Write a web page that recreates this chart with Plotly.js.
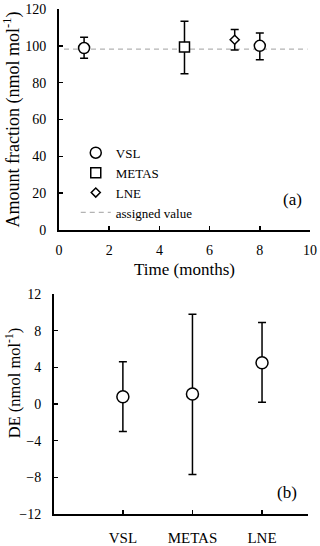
<!DOCTYPE html>
<html>
<head>
<meta charset="utf-8">
<script src="https://cdn.plot.ly/plotly-3.0.1.min.js"></script>
<style>
  html, body { margin: 0; padding: 0; background: #fff; }
  #chart { width: 320px; height: 546px; }
  #chart text { font-family: 'Liberation Serif', 'Times New Roman', serif !important; }
</style>
</head>
<body>
<div id="chart"></div>
<script>
// Panel (a): amount fraction vs time
const vslMonths = [1, 8];
const vslValues = [98.8, 100];
const vslErrPlus = [5.9, 7.0];
const vslErrMinus = [5.5, 7.6];

const metasMonths = [5];
const metasValues = [99.3];
const metasErrPlus = [14.1];
const metasErrMinus = [14.5];

const lneMonths = [7];
const lneValues = [103.3];
const lneErrPlus = [5.6];
const lneErrMinus = [5.6];

const assignedMonths = [0.2, 9.9];
const assignedValue = 98.2;

// Panel (b): degree of equivalence
const labs = ['VSL', 'METAS', 'LNE'];
const deValues = [0.8, 1.1, 4.5];
const deErrPlus = [3.8, 8.7, 4.4];
const deErrMinus = [3.8, 8.8, 4.3];

const serif = 'Liberation Serif';

function errBars(plus, minus) {
    return {
        type: 'data', symmetric: false,
        array: plus, arrayminus: minus,
        color: '#000', thickness: 1.5, width: 4
    };
}

const traces = [
    {
        x: assignedMonths, y: assignedMonths.map(() => assignedValue),
        type: 'scatter', mode: 'lines', name: 'assigned value',
        line: {color: '#b3b3b3', width: 1.2, dash: '5px,4px'},
        xaxis: 'x', yaxis: 'y', legendrank: 4
    },
    {
        x: vslMonths, y: vslValues, type: 'scatter', mode: 'markers', name: 'VSL',
        marker: {symbol: 'circle', size: 11, color: '#fff', line: {color: '#000', width: 1.5}},
        error_y: errBars(vslErrPlus, vslErrMinus),
        xaxis: 'x', yaxis: 'y', legendrank: 1
    },
    {
        x: metasMonths, y: metasValues, type: 'scatter', mode: 'markers', name: 'METAS',
        marker: {symbol: 'square', size: 10, color: '#fff', line: {color: '#000', width: 1.5}},
        error_y: errBars(metasErrPlus, metasErrMinus),
        xaxis: 'x', yaxis: 'y', legendrank: 2
    },
    {
        x: lneMonths, y: lneValues, type: 'scatter', mode: 'markers', name: 'LNE',
        marker: {symbol: 'diamond', size: 7, color: '#fff', line: {color: '#000', width: 1.5}},
        error_y: errBars(lneErrPlus, lneErrMinus),
        xaxis: 'x', yaxis: 'y', legendrank: 3
    },
    {
        x: labs, y: deValues, type: 'scatter', mode: 'markers', name: 'DE',
        showlegend: false,
        marker: {symbol: 'circle', size: 12, color: '#fff', line: {color: '#000', width: 1.5}},
        error_y: errBars(deErrPlus, deErrMinus),
        xaxis: 'x2', yaxis: 'y2'
    }
];

const axisCommon = {
    showline: true, linecolor: '#000', linewidth: 2,
    ticks: 'inside', ticklen: 4, tickwidth: 1.5, tickcolor: '#000',
    showgrid: false, zeroline: false,
    tickfont: {family: serif, size: 14, color: '#000'}
};

const layout = {
    width: 320, height: 546,
    margin: {l: 54, r: 10, t: 9, b: 32},
    paper_bgcolor: '#fff', plot_bgcolor: 'rgba(0,0,0,0)',
    font: {family: serif, color: '#000'},
    showlegend: true,
    legend: {
        x: 0.085, y: 0.745, xanchor: 'left', yanchor: 'top',
        bgcolor: 'rgba(0,0,0,0)', font: {family: serif, size: 13, color: '#000'},
        traceorder: 'normal'
    },
    xaxis: Object.assign({}, axisCommon, {
        domain: [0.0195, 1], anchor: 'y', range: [0, 10], dtick: 2,
        ticklabelstandoff: 6,
        title: {text: 'Time (months)', font: {family: serif, size: 17, color: '#000'}, standoff: 6}
    }),
    yaxis: Object.assign({}, axisCommon, {
        domain: [0.5624, 1], anchor: 'x', range: [0, 120], dtick: 20,
        ticklabelstandoff: 8,
        title: {text: 'Amount fraction (nmol mol<sup>-1</sup>)', font: {family: serif, size: 18, color: '#000'}, standoff: 6}
    }),
    xaxis2: Object.assign({}, axisCommon, {
        domain: [0, 0.992], anchor: 'y2', type: 'category', range: [-0.99, 2.66],
        ticklabelstandoff: 9,
        tickfont: {family: serif, size: 15, color: '#000'}
    }),
    yaxis2: Object.assign({}, axisCommon, {
        domain: [0, 0.4356], anchor: 'x2', range: [-12, 12], dtick: 4,
        ticklabelstandoff: 8
    }),
    annotations: [
        {text: 'DE (nmol mol<sup>-1</sup>)', xref: 'paper', yref: 'paper', x: -0.16, y: 0.259,
         xanchor: 'center', yanchor: 'middle', textangle: -90,
         showarrow: false, font: {family: serif, size: 16.5, color: '#000'}},
        {text: '(a)', xref: 'x domain', yref: 'y domain', x: 0.932, y: 0.136,
         xanchor: 'center', yanchor: 'middle',
         showarrow: false, font: {family: serif, size: 17, color: '#000'}},
        {text: '(b)', xref: 'x2 domain', yref: 'y2 domain', x: 0.917, y: 0.1,
         xanchor: 'center', yanchor: 'middle',
         showarrow: false, font: {family: serif, size: 17, color: '#000'}}
    ]
};

Plotly.newPlot('chart', traces, layout, {displayModeBar: false, staticPlot: true});
</script>
</body>
</html>
